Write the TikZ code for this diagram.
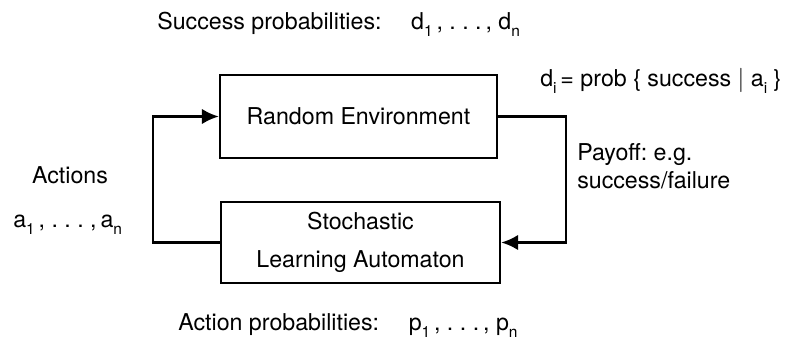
\documentclass[tikz,border=0pt]{standalone}
\usepackage{fontspec}
\setmainfont{TeX Gyre Heros}
\usetikzlibrary{arrows.meta}
\frenchspacing
\newcommand{\lblfont}{\fontsize{16.5}{20}\selectfont}
\newcommand{\idx}[2]{#1\raisebox{-.6ex}{\fontsize{11}{11}\selectfont #2}}
\begin{document}
\begin{tikzpicture}[
        x=0.025cm, y=-0.025cm,
        every node/.style={font=\lblfont},
        block/.style={draw,line width=1.7pt,inner sep=0pt,align=center},
        flow/.style={line width=1.7pt,-{Latex[length=12pt,width=11pt]}},
        lbl/.style={inner sep=0pt},
        ]
    \useasboundingbox (0,0) rectangle (795,342);
    % the two blocks
    \node (env) [block,minimum width=6.925cm,minimum height=2.075cm]
        at (358.5,116.5) {Random Environment};
    \node (sla) [block,minimum width=6.975cm,minimum height=2.025cm,
        font=\fontsize{16.5}{27}\selectfont] at (360.5,242.5)
        {Stochastic\\Learning Automaton};
    \coordinate (lc) at (153,0);
    \coordinate (rc) at (566,0);
    % feedback loop
    \draw[flow] (sla.west) -- (sla.west -| lc) |- (env.west);
    \draw[flow] (env.east) -- (env.east -| rc) |- (sla.east);
    % labels
    \node (succ) [lbl,anchor=base west] at (157,29)
        {Success probabilities:\quad\ \idx{d}{1}\,,\ .\ .\ .\,,\ \idx{d}{n}};
    \node (di) [lbl,anchor=base west] at (540,86)
        {\idx{d}{i}\,= prob \{ success $|$ \idx{a}{i} \}};
    \node (pay) [lbl,anchor=north west,align=left] at (577,143)
        {Payoff: e.g.\\success/failure};
    \node (act) [lbl,anchor=base] at (70,183) {Actions};
    \node (acts) [lbl,anchor=base west] at (13,227)
        {\idx{a}{1}\,,\ .\ .\ .\ ,\,\idx{a}{n}};
    \node (actp) [lbl,anchor=base west] at (178,330)
        {Action probabilities:\quad\ \idx{p}{1}\,,\ .\ .\ .\,,\ \idx{p}{n}};
\end{tikzpicture}
\end{document}
